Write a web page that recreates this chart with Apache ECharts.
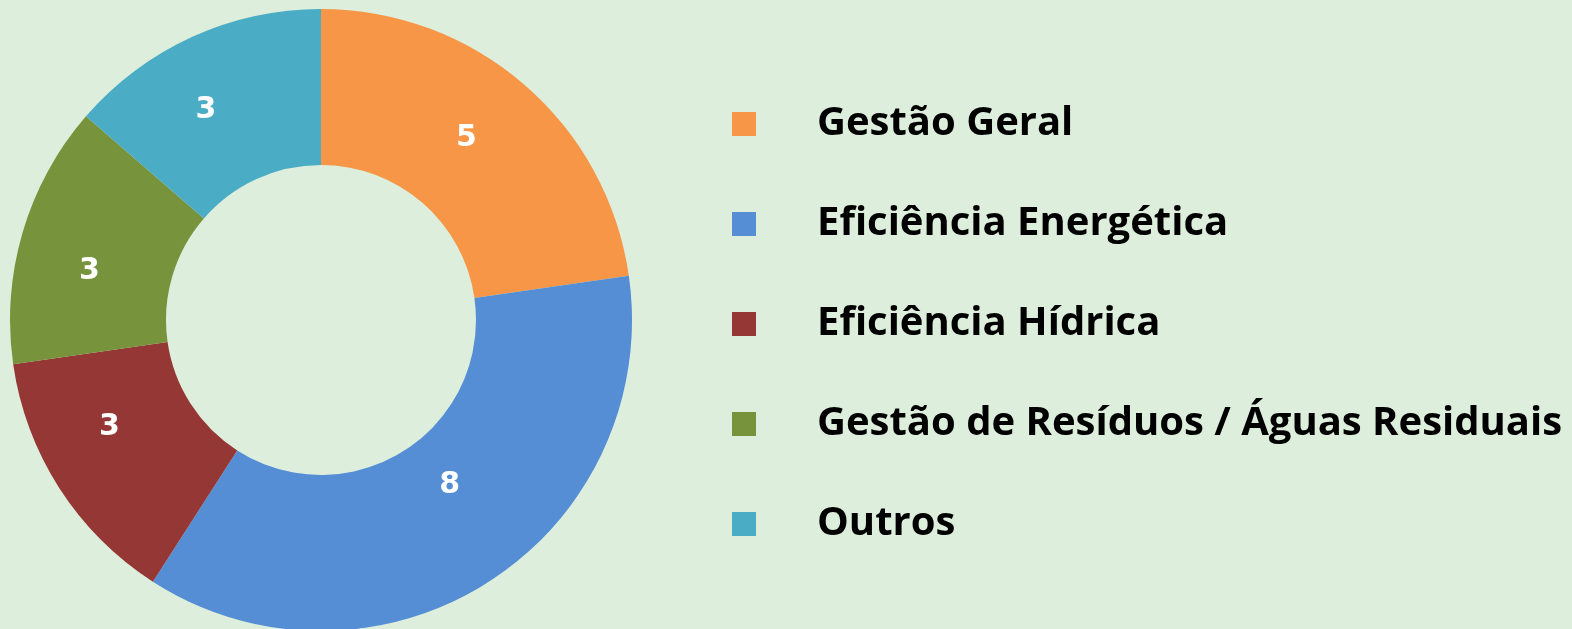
<!DOCTYPE html>
<html>
<head>
<meta charset="utf-8">
<title>Donut</title>
<script src="https://cdn.jsdelivr.net/npm/echarts@6/dist/echarts.min.js"></script>
<style>
  html, body { margin: 0; padding: 0; background: #ddeedc; }
  #chart { width: 1572px; height: 629px; }
</style>
</head>
<body>
<div id="chart"></div>
<script>
// categorias e valores
var categories = ['Gestão Geral', 'Eficiência Energética', 'Eficiência Hídrica', 'Gestão de Resíduos / Águas Residuais', 'Outros'];
var values = [5, 8, 3, 3, 3];
var colors = ['#f79646', '#558ed5', '#953735', '#77933c', '#4bacc6'];

var chart = echarts.init(document.getElementById('chart'));

// pequenos ajustes na posição dos rótulos (como no original)
var labelShift = [[-9, -3], [1, -33], [-13, -20], [-5, 18], [-17, 5]];

var pieData = categories.map(function (name, i) {
    return {
        name: name,
        value: values[i],
        itemStyle: { color: colors[i] },
        label: { offset: labelShift[i] }
    };
});

chart.setOption({
    backgroundColor: '#ddeedc',
    animation: false,
    legend: {
        orient: 'vertical',
        left: 727,
        top: 96,
        itemWidth: 24,
        itemHeight: 24,
        itemGap: 54,
        icon: 'rect',
        data: categories,
        textStyle: {
            fontFamily: 'Open Sans',
            fontWeight: 'bold',
            fontSize: 40,
            lineHeight: 46,
            color: '#000',
            padding: [0, 0, 0, 56]
        }
    },
    series: [{
        type: 'pie',
        center: [321, 320],
        radius: [155, 311],
        startAngle: 90,
        clockwise: true,
        data: pieData,
        label: {
            position: 'inside',
            formatter: '{c}',
            color: '#fff',
            fontFamily: 'DejaVu Sans',
            fontWeight: 'bold',
            fontSize: 30
        },
        labelLine: { show: false },
        emphasis: { disabled: true }
    }]
});
</script>
</body>
</html>
